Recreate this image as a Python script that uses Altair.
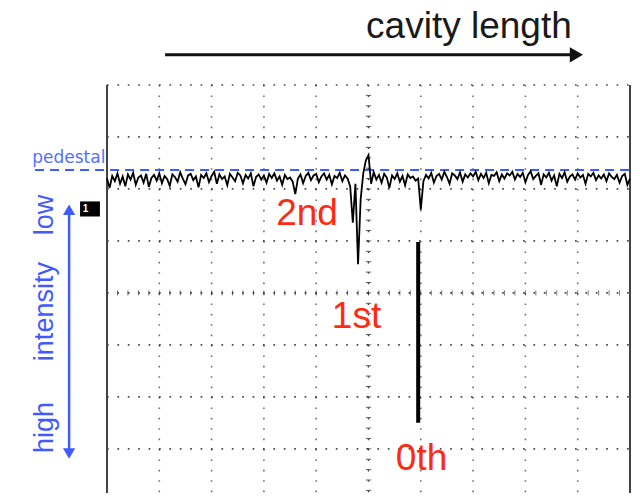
import altair as alt
import pandas as pd

# ---- oscilloscope trace (sample index 0..200 = 10 divisions; value in divisions) ----
trace_v = [
    2.20, 2.02, 2.25, 2.15, 2.30, 2.10, 2.24, 2.05, 2.28, 2.18, 2.31, 2.08, 2.22, 2.26, 2.12, 2.29, 2.04, 2.21, 2.27, 2.16,
    2.30, 2.11, 2.25, 2.19, 2.06, 2.28, 2.23, 2.14, 2.32, 2.20, 2.09, 2.26, 2.29, 2.17, 2.24, 2.03, 2.27, 2.21, 2.30, 2.13,
    2.25, 2.33, 2.10, 2.28, 2.19, 2.24, 2.07, 2.29, 2.22, 2.15, 2.31, 2.26, 2.11, 2.27, 2.20, 2.30, 2.05, 2.23, 2.28, 2.18,
    2.26, 2.12, 2.29, 2.21, 2.30, 2.16, 2.24, 2.08, 2.27, 2.19, 2.22, 2.14, 1.90, 2.20, 2.28, 2.11, 2.25, 2.31, 2.17, 2.26,
    2.29, 2.13, 2.24, 2.30, 2.18, 2.27, 2.09, 2.25, 2.21, 2.31, 2.15, 2.26, 2.20, 2.05, 1.35, 2.10, 0.55, 1.80, 2.30, 2.55,
    2.65, 2.10, 2.32, 2.18, 2.27, 2.12, 2.29, 2.22, 2.02, 2.26, 2.19, 2.30, 2.14, 2.25, 2.07, 2.28, 2.21, 2.24, 2.16, 2.20,
    1.60, 2.15, 2.27, 2.20, 2.31, 2.12, 2.25, 2.29, 2.18, 2.33, 2.23, 2.10, 2.30, 2.26, 2.19, 2.32, 2.14, 2.28, 2.22, 2.30,
    2.24, 2.33, 2.17, 2.29, 2.21, 2.31, 2.11, 2.27, 2.25, 2.32, 2.15, 2.28, 2.20, 2.30, 2.26, 2.33, 2.18, 2.29, 2.23, 2.31,
    2.13, 2.27, 2.34, 2.19, 2.25, 2.30, 2.08, 2.28, 2.22, 2.31, 2.16, 2.26, 2.05, 2.29, 2.21, 2.32, 2.14, 2.24, 2.28, 2.18,
    2.30, 2.22, 2.27, 2.10, 2.29, 2.24, 2.31, 2.17, 2.26, 2.20, 2.28, 2.15, 2.30, 2.23, 2.19, 2.27, 2.12, 2.25, 2.29, 2.08, 2.20,
]

# the 0th-order resonance dip (drawn as a separate vertical stroke)
zeroth_x = [119]
zeroth_top = [0.98]
zeroth_bottom = [-2.5]

# grid
grid_h = [-4, -3, -2, -1, 0, 1, 2, 3, 4]
grid_vx = [20, 40, 60, 80, 120, 140, 160, 180]
border_x = [0, 200]
center_x = [100]
center_ticks_v = [round(-3.8 + 0.2 * i, 2) for i in range(39)]
center_ticks_x = [4 * i for i in range(1, 50)]

# pedestal level
pedestal_v = 2.365
pedestal_x = [-27.5, 202]

# annotation texts
order_labels = ["2nd", "1st", "0th"]
order_x = [76.5, 95.4, 120.3]
order_v = [1.31, -0.68, -3.40]

side_labels = ["low", "intensity", "high"]
side_x = [-20.6, -20.6, -20.6]
side_v = [1.50, -0.36, -2.59]

XS = alt.Scale(domain=[0, 200], nice=False, zero=False)
YS = alt.Scale(domain=[-3.85, 4], nice=False, zero=False)


def X(f, **kw):
    return alt.X(f, type="quantitative", scale=XS, axis=None, **kw)


def Y(f, **kw):
    return alt.Y(f, type="quantitative", scale=YS, axis=None, **kw)


BLUE = "#3f5bff"
RED = "#ff2a12"

trace_df = pd.DataFrame({"x": list(range(len(trace_v))), "v": trace_v})

# grid layers
hgrid = alt.Chart(pd.DataFrame({"v": grid_h})).mark_rule(
    color="#111111", strokeWidth=1.7, strokeDash=[1.7, 8.7], opacity=0.75
).encode(y=Y("v"), x=alt.value(0), x2=alt.value(523))

vgrid = alt.Chart(pd.DataFrame({"x": grid_vx})).mark_rule(
    color="#111111", strokeWidth=1.6, strokeDash=[1.6, 8.8], opacity=0.6
).encode(x=X("x"), y=alt.value(0), y2=alt.value(420))

cgrid = alt.Chart(pd.DataFrame({"x": center_x})).mark_rule(
    color="#111111", strokeWidth=1.4, strokeDash=[1.6, 8.8], opacity=0.8
).encode(x=X("x"), y=alt.value(0), y2=alt.value(420))

cticks_v = alt.Chart(pd.DataFrame({"v": center_ticks_v, "x1": 99.0, "x2": 101.0})).mark_rule(
    color="#222222", strokeWidth=1, opacity=0.7
).encode(y=Y("v"), x=X("x1"), x2="x2")

cticks_h = alt.Chart(pd.DataFrame({"x": center_ticks_x, "v1": -0.05, "v2": 0.05})).mark_rule(
    color="#222222", strokeWidth=1, opacity=0.6
).encode(x=X("x"), y=Y("v1"), y2="v2")

borders = alt.Chart(pd.DataFrame({"x": border_x})).mark_rule(
    color="#444444", strokeWidth=2
).encode(x=X("x"), y=alt.value(0), y2=alt.value(420))

# pedestal
ped = alt.Chart(pd.DataFrame({"x1": [pedestal_x[0]], "x2": [pedestal_x[1]], "v": [pedestal_v]})).mark_rule(
    color=BLUE, strokeWidth=2, strokeDash=[9, 6]
).encode(x=X("x1"), x2="x2", y=Y("v"))

ped_text = alt.Chart(pd.DataFrame({"x": [-28.6], "v": [2.50], "t": ["pedestal"]})).mark_text(
    align="left", baseline="alphabetic", font="DejaVu Sans", fontSize=17, color="#5570ff"
).encode(x=X("x"), y=Y("v"), text="t:N")

# trace
trace = alt.Chart(trace_df).mark_line(color="#000000", strokeWidth=1.8, interpolate="linear").encode(
    x=X("x"), y=Y("v")
)

zeroth = alt.Chart(pd.DataFrame({"x": zeroth_x, "v1": zeroth_top, "v2": zeroth_bottom})).mark_rule(
    color="#000000", strokeWidth=4
).encode(x=X("x"), y=Y("v1"), y2="v2")

# channel marker
marker = alt.Chart(pd.DataFrame({"x1": [-10.3], "x2": [-2.7], "v1": [1.76], "v2": [1.47]})).mark_rect(
    color="#000000"
).encode(x=X("x1"), x2="x2", y=Y("v1"), y2="v2")
marker_t = alt.Chart(pd.DataFrame({"x": [-8.2], "v": [1.615], "t": ["1"]})).mark_text(
    align="center", baseline="middle", fontSize=10, fontWeight="bold", color="white", font="Liberation Sans"
).encode(x=X("x"), y=Y("v"), text="t:N")

# order labels
orders = alt.Chart(pd.DataFrame({"x": order_x, "v": order_v, "t": order_labels})).mark_text(
    align="center", baseline="alphabetic", font="Liberation Sans", fontSize=37, color=RED
).encode(x=X("x"), y=Y("v"), text="t:N")

# left intensity arrow + labels
side_text = alt.Chart(pd.DataFrame({"x": side_x, "v": side_v, "t": side_labels})).mark_text(
    align="center", baseline="alphabetic", angle=270, font="Liberation Sans", fontSize=27, color=BLUE
).encode(x=X("x"), y=Y("v"), text="t:N")

side_line = alt.Chart(pd.DataFrame({"x": [-14.5], "v1": [1.55], "v2": [-3.05]})).mark_rule(
    color=BLUE, strokeWidth=2.5
).encode(x=X("x"), y=Y("v1"), y2="v2")

side_heads = alt.Chart(pd.DataFrame({"x": [-14.5, -14.5], "v": [1.60, -3.09], "s": ["triangle-up", "triangle-down"]})).mark_point(
    filled=True, size=150, color=BLUE, opacity=1, strokeWidth=0
).encode(x=X("x"), y=Y("v"), shape=alt.Shape("s:N", scale=None, legend=None))

# top "cavity length" arrow
top_line = alt.Chart(pd.DataFrame({"x1": [22.2], "x2": [178.0], "v": [4.58]})).mark_rule(
    color="#111111", strokeWidth=3
).encode(x=X("x1"), x2="x2", y=Y("v"))

top_head = alt.Chart(pd.DataFrame({"x": [179.5], "v": [4.58]})).mark_point(
    shape="triangle-right", filled=True, size=230, color="#111111", opacity=1, strokeWidth=0
).encode(x=X("x"), y=Y("v"))

top_text = alt.Chart(pd.DataFrame({"x": [138.4], "v": [4.91], "t": ["cavity length"]})).mark_text(
    align="center", baseline="alphabetic", font="Liberation Sans", fontSize=37, color="#1a1a1a"
).encode(x=X("x"), y=Y("v"), text="t:N")

chart = alt.layer(
    hgrid, vgrid, cgrid, cticks_v, cticks_h, borders,
    ped, trace, zeroth, marker, marker_t, orders,
    side_line, side_heads, side_text, ped_text,
    top_line, top_head, top_text,
).properties(
    width=523,
    height=408,
    padding={"left": 99, "top": 77, "right": 2, "bottom": 0},
    autosize=alt.AutoSizeParams(type="none"),
).configure_view(strokeWidth=0)

chart.save("out.html", embed_options={"renderer": "svg", "actions": False})
